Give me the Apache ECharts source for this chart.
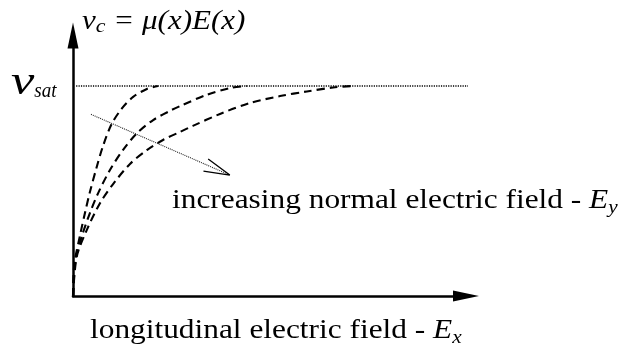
<!DOCTYPE html>
<html>
<head>
<meta charset="utf-8">
<script src="https://cdn.jsdelivr.net/npm/echarts@6/dist/echarts.min.js"></script>
<style>
  html, body { margin: 0; padding: 0; background: #fff; }
  #chart { width: 626px; height: 356px; }
</style>
</head>
<body>
<div id="chart"></div>
<script>
// Carrier drift velocity (normalised to v_sat) versus longitudinal field Ex,
// one curve per normal field Ey (arbitrary field units).
const fieldLowEy    = [0, 0.033, 0.18, 0.31, 0.43, 0.60, 0.76, 0.98, 1.24, 1.53, 1.88, 2.16];
const velocityLowEy = [0, 0.150, 0.290, 0.400, 0.495, 0.612, 0.712, 0.818, 0.892, 0.948, 0.986, 1.0];

const fieldMidEy    = [0, 0.064, 0.22, 0.43, 0.64, 0.94, 1.27, 1.63, 2.04, 2.47, 2.72, 3.40, 3.99, 4.42];
const velocityMidEy = [0, 0.171, 0.282, 0.395, 0.490, 0.600, 0.695, 0.776, 0.838, 0.882, 0.904, 0.958, 0.990, 1.0];

const fieldHighEy    = [0, 0.094, 0.35, 0.69, 1.02, 1.45, 1.88, 2.29, 2.72, 3.05, 3.74, 4.50, 5.27, 5.95, 6.62, 7.12];
const velocityHighEy = [0, 0.186, 0.314, 0.443, 0.533, 0.629, 0.695, 0.743, 0.781, 0.810, 0.867, 0.919, 0.952, 0.974, 0.993, 1.0];

// Saturation velocity level (normalised) and the extent of its guide line
const vSat = 1.0;
const vSatSpan = [0.08, 10.1];

// "increasing Ey" indicator: shaft start, tip, and the two barb ends
const trendStart = [0.458, 0.865];
const trendTip   = [3.99, 0.576];
const trendBarbs = [[3.44, 0.652], [3.32, 0.595]];

const pairs = (xs, ys) => xs.map((x, i) => [x, ys[i]]);

// ---- text layout helpers (baseline-aligned runs with subscripts) ----
const SERIF = '"Liberation Serif", "Times New Roman", Times, serif';
const measure = document.createElement('canvas').getContext('2d');
function fontOf(s) { return (s.italic ? 'italic ' : '') + s.size + 'px ' + SERIF; }
function middleOffset(font) {
  measure.font = font;
  measure.textBaseline = 'alphabetic';
  const a = measure.measureText('H').actualBoundingBoxDescent;
  measure.textBaseline = 'middle';
  const m = measure.measureText('H').actualBoundingBoxDescent;
  measure.textBaseline = 'alphabetic';
  return m - a;
}
function textRun(x0, baseline, segs) {
  const els = [];
  let x = x0;
  segs.forEach(s => {
    const font = fontOf(s);
    const sx = s.sx || 1;
    measure.font = font;
    const w = measure.measureText(s.text).width * sx;
    const y = baseline + (s.dy || 0) - middleOffset(font);
    els.push({
      type: 'text', x: x, y: y, scaleX: sx, silent: true,
      style: {
        text: s.text, font: font, fill: '#000',
        align: 'left', verticalAlign: 'middle',
        textAlign: 'left', textVerticalAlign: 'middle'
      }
    });
    x += w;
  });
  return els;
}

const curveStyle = { color: '#000', width: 2.1, type: [8, 5] };
function curve(xs, ys) {
  return {
    type: 'line', data: pairs(xs, ys), smooth: 0.3, showSymbol: false,
    lineStyle: curveStyle, silent: true, clip: false
  };
}

const chart = echarts.init(document.getElementById('chart'), null, { renderer: 'canvas' });

const graphics = [].concat(
  textRun(82, 29, [
    { text: 'v', size: 27, italic: true, sx: 1.15 },
    { text: 'c', size: 19, italic: true, sx: 1.15, dy: 3 },
    { text: ' = \u03bc(x)E(x)', size: 27, italic: true, sx: 1.15 }
  ]),
  textRun(11, 94, [
    { text: 'v', size: 42, italic: true, sx: 1.25 },
    { text: 'sat', size: 20, italic: true, sx: 0.95, dy: 3 }
  ]),
  textRun(172, 208, [
    { text: 'increasing normal electric field - ', size: 28, sx: 1.12 },
    { text: 'E', size: 28, italic: true, sx: 1.12 },
    { text: 'y', size: 19, italic: true, sx: 1.12, dy: 5 }
  ]),
  textRun(90, 338, [
    { text: 'longitudinal electric field - ', size: 28, sx: 1.12 },
    { text: 'E', size: 28, italic: true, sx: 1.12 },
    { text: 'x', size: 19, italic: true, sx: 1.12, dy: 5 }
  ])
);

const axisCommon = {
  type: 'value', min: 0,
  axisLine: {
    show: true, onZero: false,
    symbol: ['none', 'triangle'], symbolSize: [11, 26],
    lineStyle: { color: '#000', width: 2.5 }
  },
  axisTick: { show: false },
  axisLabel: { show: false },
  splitLine: { show: false }
};

chart.setOption({
  animation: false,
  backgroundColor: '#fff',
  grid: { left: 73, right: 160, top: 35.6, bottom: 60, containLabel: false },
  xAxis: Object.assign({}, axisCommon, { max: 10 }),
  yAxis: Object.assign({}, axisCommon, { max: 1.24 }),
  graphic: graphics,
  series: [
    {
      type: 'line', data: [[vSatSpan[0], vSat], [vSatSpan[1], vSat]], showSymbol: false,
      lineStyle: { color: '#000', width: 1.5, type: [1.2, 1.2] }, silent: true, clip: false, z: 1
    },
    curve(fieldLowEy, velocityLowEy),
    curve(fieldMidEy, velocityMidEy),
    curve(fieldHighEy, velocityHighEy),
    {
      type: 'line', data: [trendStart, trendTip], showSymbol: false,
      lineStyle: { color: '#222', width: 1.1, type: [1, 1] }, silent: true, clip: false
    },
    {
      type: 'line', data: [trendBarbs[0], trendTip, trendBarbs[1]], showSymbol: false,
      lineStyle: { color: '#000', width: 1.3, type: 'solid' }, silent: true, clip: false
    }
  ]
});
</script>
</body>
</html>
